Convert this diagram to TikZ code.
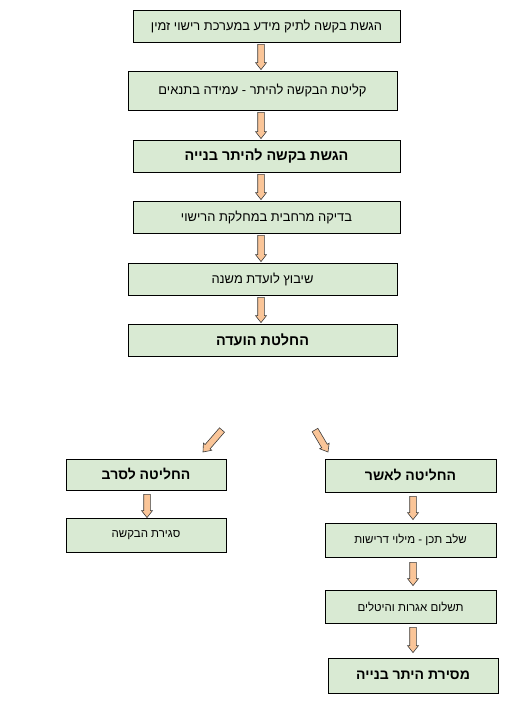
\documentclass[tikz,border=0pt]{standalone}
\usepackage{fontspec}
\usetikzlibrary{calc}
\TeXXeTstate=1
\newfontfamily\heb[Script=Hebrew]{Liberation Sans}
\definecolor{boxgreen}{RGB}{217,234,211}
\definecolor{arrfill}{RGB}{250,197,152}
\definecolor{arrline}{RGB}{60,60,60}
\newcommand\rtl[1]{\beginR #1\endR}
\newcommand\blkarrow[2]{%
 \draw[blk] let \p1=(#1), \p2=(#2), \n1={atan2(\y2-\y1,\x2-\x1)} in
 ($(\p1)+(\n1+90:3.3pt)$) --
 ($(\p2)+(\n1:-7pt)+(\n1+90:3.3pt)$) --
 ($(\p2)+(\n1:-7pt)+(\n1+90:5.5pt)$) --
 (\p2) --
 ($(\p2)+(\n1:-7pt)+(\n1-90:5.5pt)$) --
 ($(\p2)+(\n1:-7pt)+(\n1-90:3.3pt)$) --
 ($(\p1)+(\n1-90:3.3pt)$) -- cycle;}
\tikzset{
  box/.style={draw=black, line width=0.8pt, fill=boxgreen, inner sep=0pt,
    font=\heb\fontsize{12.9}{15}\selectfont},
  boldbox/.style={box, font=\heb\bfseries\fontsize{14.4}{16}\selectfont},
  smallbox/.style={box, font=\heb\fontsize{11.5}{13}\selectfont},
  smallbold/.style={box, font=\heb\bfseries\fontsize{14}{16}\selectfont},
  blk/.style={draw=arrline, line width=0.6pt, fill=arrfill, line join=miter},
}
\begin{document}
\begin{tikzpicture}[x=1pt,y=1pt]
\useasboundingbox (0,0) rectangle (515,709);
% top column
\node[box, minimum width=267, minimum height=32] (b1) at (266.5,683) {\rtl{הגשת בקשה לתיק מידע במערכת רישוי זמין}};
\node[box, minimum width=269, minimum height=39] (b2) at (262.5,618.5) {\rtl{קליטת הבקשה להיתר - עמידה בתנאים}};
\node[boldbox, minimum width=267, minimum height=32] (b3) at (266.5,553) {\rtl{הגשת בקשה להיתר בנייה}};
\node[box, minimum width=267, minimum height=32] (b4) at (266.5,492) {\rtl{בדיקה מרחבית במחלקת הרישוי}};
\node[box, minimum width=269, minimum height=32] (b5) at (262.5,430) {\rtl{שיבוץ לועדת משנה}};
\node[boldbox, minimum width=269, minimum height=32] (b6) at (262.5,369) {\rtl{החלטת הועדה}};
% left branch
\node[smallbold, minimum width=160, minimum height=31] (l1) at (146,234.5) {\rtl{החליטה לסרב}};
\node[smallbox, minimum width=160, minimum height=34] (l2) at (146,174) {\rtl{סגירת הבקשה}};
% right branch
\node[smallbold, minimum width=171, minimum height=33] (r1) at (410.5,233.5) {\rtl{החליטה לאשר}};
\node[smallbox, minimum width=171, minimum height=34] (r2) at (410.5,169) {\rtl{שלב תכן - מילוי דרישות}};
\node[smallbox, minimum width=171, minimum height=33] (r3) at (410.5,102.5) {\rtl{תשלום אגרות והיטלים}};
\node[smallbold, minimum width=170, minimum height=35] (r4) at (413,33.5) {\rtl{מסירת היתר בנייה}};
% arrow columns
\coordinate (ax) at (261,0);
\coordinate (lx) at (147,0);
\coordinate (rx) at (413,0);
\coordinate (ltail) at (222,279);
\coordinate (lhead) at (203,257);
\coordinate (rtail) at (315,279);
\coordinate (rhead) at (328,257);
% arrows
\blkarrow{$(b1.south -| ax)+(0,-2)$}{$(b2.north -| ax)+(0,1)$}
\blkarrow{$(b2.south -| ax)+(0,-2)$}{$(b3.north -| ax)+(0,1)$}
\blkarrow{$(b3.south -| ax)+(0,-2)$}{$(b4.north -| ax)+(0,1)$}
\blkarrow{$(b4.south -| ax)+(0,-2)$}{$(b5.north -| ax)+(0,1)$}
\blkarrow{$(b5.south -| ax)+(0,-2)$}{$(b6.north -| ax)+(0,1)$}
\blkarrow{ltail}{lhead}
\blkarrow{rtail}{rhead}
\blkarrow{$(l1.south -| lx)+(0,-4)$}{$(l2.north -| lx)+(0,0)$}
\blkarrow{$(r1.south -| rx)+(0,-4)$}{$(r2.north -| rx)+(0,3)$}
\blkarrow{$(r2.south -| rx)+(0,-5)$}{$(r3.north -| rx)+(0,4)$}
\blkarrow{$(r3.south -| rx)+(0,-4)$}{$(r4.north -| rx)+(0,5)$}
\end{tikzpicture}
\end{document}
